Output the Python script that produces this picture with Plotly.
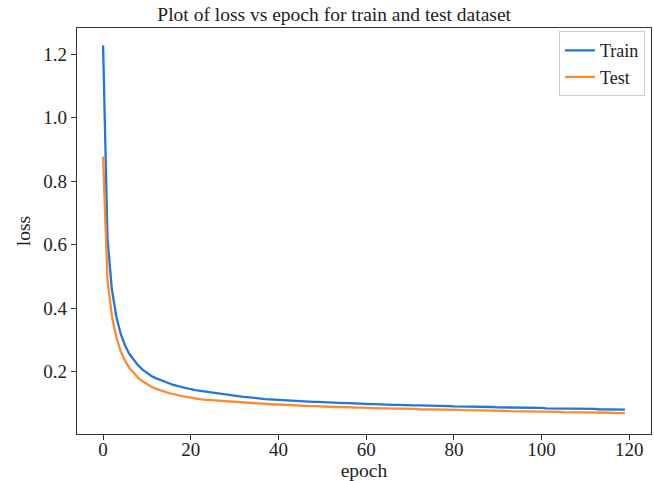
import plotly.graph_objects as go

epochs = list(range(120))

train_loss = [
    1.228, 0.62, 0.46, 0.375, 0.32, 0.283, 0.256, 0.236, 0.220, 0.207,
    0.196, 0.187, 0.180, 0.174, 0.168, 0.164, 0.159, 0.155, 0.151, 0.148,
    0.145, 0.142, 0.140, 0.137, 0.135, 0.133, 0.131, 0.129, 0.127, 0.126,
    0.124, 0.123, 0.121, 0.120, 0.118, 0.117, 0.115, 0.114, 0.113, 0.112,
    0.111, 0.110, 0.110, 0.109, 0.108, 0.107, 0.107, 0.106, 0.105, 0.105,
    0.104, 0.103, 0.103, 0.102, 0.102, 0.101, 0.101, 0.100, 0.100, 0.099,
    0.099, 0.098, 0.098, 0.097, 0.097, 0.097, 0.096, 0.096, 0.095, 0.095,
    0.095, 0.094, 0.094, 0.094, 0.093, 0.093, 0.093, 0.092, 0.092, 0.092,
    0.091, 0.091, 0.091, 0.091, 0.090, 0.090, 0.090, 0.089, 0.089, 0.089,
    0.088, 0.088, 0.088, 0.087, 0.087, 0.087, 0.087, 0.086, 0.086, 0.086,
    0.086, 0.085, 0.085, 0.085, 0.085, 0.084, 0.084, 0.084, 0.084, 0.083,
    0.083, 0.083, 0.083, 0.082, 0.082, 0.082, 0.082, 0.081, 0.081, 0.081,
]

test_loss = [
    0.878, 0.49, 0.375, 0.31, 0.265, 0.235, 0.212, 0.195, 0.181, 0.170,
    0.161, 0.153, 0.147, 0.142, 0.137, 0.133, 0.130, 0.126, 0.123, 0.121,
    0.118, 0.116, 0.114, 0.112, 0.111, 0.109, 0.108, 0.107, 0.106, 0.105,
    0.104, 0.103, 0.102, 0.102, 0.101, 0.100, 0.099, 0.099, 0.098, 0.097,
    0.097, 0.096, 0.095, 0.095, 0.094, 0.093, 0.093, 0.092, 0.092, 0.091,
    0.091, 0.090, 0.090, 0.089, 0.089, 0.088, 0.088, 0.088, 0.087, 0.087,
    0.086, 0.086, 0.086, 0.085, 0.085, 0.085, 0.084, 0.084, 0.084, 0.083,
    0.083, 0.083, 0.082, 0.082, 0.082, 0.081, 0.081, 0.081, 0.080, 0.080,
    0.080, 0.080, 0.079, 0.079, 0.079, 0.078, 0.078, 0.078, 0.078, 0.077,
    0.077, 0.077, 0.077, 0.076, 0.076, 0.076, 0.076, 0.075, 0.075, 0.075,
    0.075, 0.074, 0.074, 0.074, 0.074, 0.073, 0.073, 0.073, 0.073, 0.072,
    0.072, 0.072, 0.072, 0.071, 0.071, 0.071, 0.071, 0.070, 0.070, 0.070,
]

x_ticks = [0, 20, 40, 60, 80, 100, 120]
y_ticks = [0.2, 0.4, 0.6, 0.8, 1.0, 1.2]

FONT = "Liberation Serif"

fig = go.Figure()
fig.add_trace(go.Scatter(x=epochs, y=train_loss, mode="lines", name="Train",
                         line=dict(color="#1f78dc", width=2.3)))
fig.add_trace(go.Scatter(x=epochs, y=test_loss, mode="lines", name="Test",
                         line=dict(color="#ff8a2e", width=2.3)))

axis_common = dict(showgrid=False, zeroline=False, showline=True, linecolor="#333",
                   linewidth=1.3, mirror=True, ticks="outside", ticklen=5,
                   tickcolor="#333", tickfont=dict(family=FONT, size=19, color="#222"),
                   automargin=False)

fig.update_layout(
    width=654, height=481,
    margin=dict(l=77, r=3, t=28, b=47),
    paper_bgcolor="white", plot_bgcolor="white",
    font=dict(family=FONT, color="#222"),
    title=dict(text="Plot of loss vs epoch for train and test dataset",
               x=0.511, xref="container", xanchor="center",
               y=0.985, yref="container", yanchor="top",
               font=dict(family=FONT, size=19.5, color="#222")),
    xaxis=dict(range=[-5.95, 124.95], tickvals=x_ticks, ticklabelstandoff=-7,
               title=dict(text="epoch", font=dict(family=FONT, size=19.5), standoff=0),
               **axis_common),
    yaxis=dict(range=[0.004, 1.283], tickvals=y_ticks, tickformat=".1f",
               title=dict(text="loss", font=dict(family=FONT, size=19.5), standoff=7),
               **axis_common),
    legend=dict(x=0.9895, y=0.992, xanchor="right", yanchor="top",
                bgcolor="rgba(255,255,255,0.8)", bordercolor="#d0d0d0", borderwidth=1,
                font=dict(family=FONT, size=18, color="#222"),
                tracegroupgap=0, itemwidth=30),
    showlegend=True,
)

fig.write_html("out.html", config={"displayModeBar": False},
               post_script="document.body.style.margin='0px';document.body.style.overflow='hidden';")
